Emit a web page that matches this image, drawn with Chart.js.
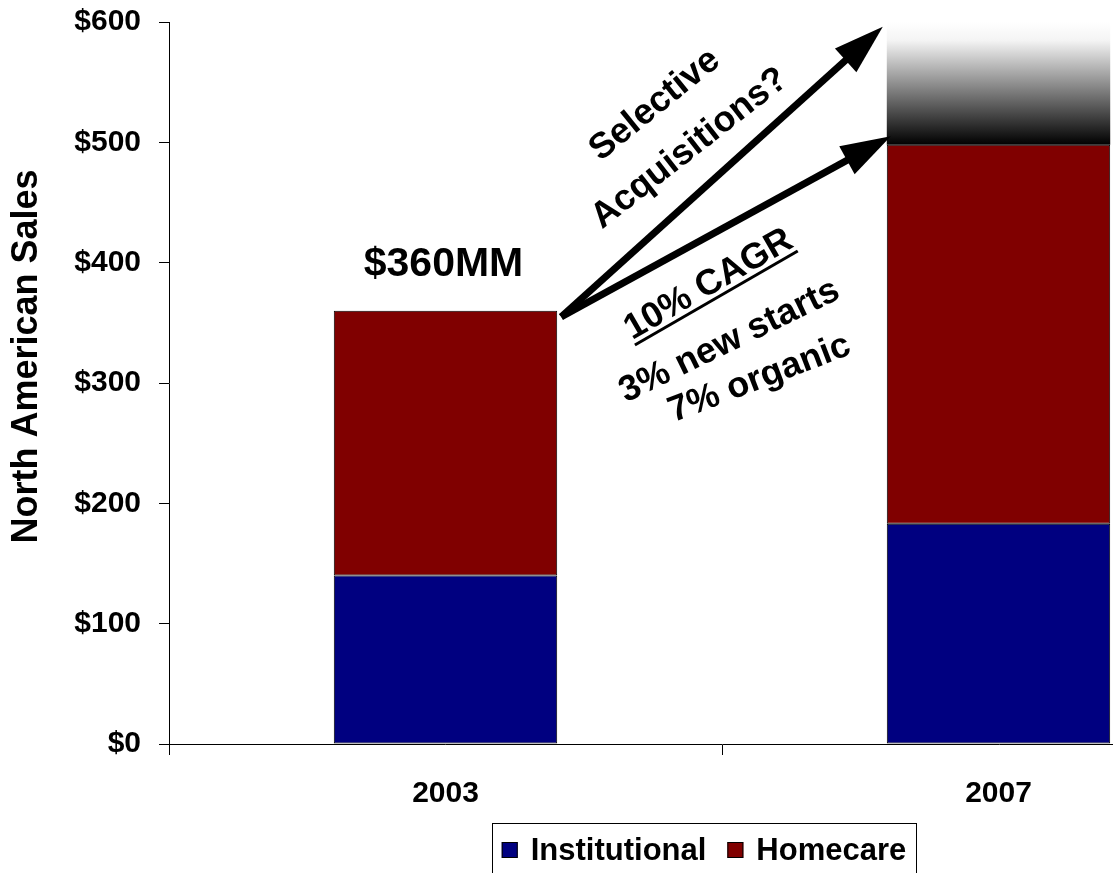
<!DOCTYPE html>
<html>
<head>
<meta charset="utf-8">
<script src="https://cdn.jsdelivr.net/npm/chart.js@4.4.0/dist/chart.umd.min.js"></script>
<style>
    html, body { margin: 0; padding: 0; background: #fff; overflow: hidden; }
    #wrap { position: relative; width: 1275px; height: 873px; }
</style>
</head>
<body>
<div id="wrap"><canvas id="salesChart"></canvas></div>
<script>
// North American sales, $MM
var years = ['2003', '2007'];
var institutional = [140, 183];
var homecare = [220, 315];
var upside = [null, 102];          // faded band on top of 2007, up to $600
var yTicks = [0, 100, 200, 300, 400, 500, 600];
var totalLabel = '$360MM';

var FONT = "'Liberation Sans', Arial, sans-serif";

// annotation text, placed by category index and $ value
var growthNotes = [
    { text: 'Selective', i: 0.375, v: 533, rot: -39 },
    { text: 'Acquisitions?', i: 0.438, v: 497, rot: -38 },
    { text: '10% CAGR', i: 0.473, v: 384, rot: -30, underline: true },
    { text: '3% new starts', i: 0.511, v: 337, rot: -26 },
    { text: '7% organic', i: 0.566, v: 306, rot: -21 }
];
// arrows: from top of 2003 bar to the 2007 bar
var arrowEnds = [
    { v: 505, dx: 4 },
    { v: 596, dx: -4 }
];
var arrowStart = 355;

function drawArrow(ctx, x1, y1, x2, y2) {
    var ang = Math.atan2(y2 - y1, x2 - x1);
    var headLen = 50, headHalf = 16;
    var bx = x2 - headLen * Math.cos(ang), by = y2 - headLen * Math.sin(ang);
    ctx.lineWidth = 7;
    ctx.beginPath();
    ctx.moveTo(x1, y1);
    ctx.lineTo(bx + 2 * Math.cos(ang), by + 2 * Math.sin(ang));
    ctx.stroke();
    ctx.beginPath();
    ctx.moveTo(x2, y2);
    ctx.lineTo(bx + headHalf * Math.sin(ang), by - headHalf * Math.cos(ang));
    ctx.lineTo(bx - headHalf * Math.sin(ang), by + headHalf * Math.cos(ang));
    ctx.closePath();
    ctx.fill();
}

var annotations = {
    id: 'annotations',
    afterDatasetsDraw: function (chart) {
        var ctx = chart.ctx;
        var xs = chart.scales.x, ys = chart.scales.y;
        var bars0 = chart.getDatasetMeta(0).data;
        ctx.save();
        ctx.fillStyle = '#000';
        ctx.strokeStyle = '#000';

        // y axis title
        ctx.save();
        ctx.translate(37, ys.getPixelForValue(322));
        ctx.rotate(-Math.PI / 2);
        ctx.font = 'bold 36px ' + FONT;
        ctx.textAlign = 'center';
        ctx.textBaseline = 'alphabetic';
        ctx.fillText('North American Sales', 0, 0);
        ctx.restore();

        // total above 2003
        ctx.font = 'bold 41px ' + FONT;
        ctx.textAlign = 'center';
        ctx.textBaseline = 'alphabetic';
        ctx.fillText(totalLabel, bars0[0].x - 2, ys.getPixelForValue(institutional[0] + homecare[0]) - 35);

        // arrows
        var sx = bars0[0].x + bars0[0].width / 2 + 4;
        var sy = ys.getPixelForValue(arrowStart);
        var left2007 = bars0[1].x - bars0[1].width / 2;
        arrowEnds.forEach(function (a) {
            drawArrow(ctx, sx, sy, left2007 + a.dx, ys.getPixelForValue(a.v));
        });

        // rotated notes
        ctx.font = 'bold 36px ' + FONT;
        growthNotes.forEach(function (n) {
            var px = xs.left + (n.i + 0.5) * (xs.width / years.length);
            var py = ys.getPixelForValue(n.v);
            ctx.save();
            ctx.translate(px, py);
            ctx.rotate(n.rot * Math.PI / 180);
            ctx.textAlign = 'center';
            ctx.fillText(n.text, 0, 13);
            if (n.underline) {
                var w = ctx.measureText(n.text).width;
                ctx.fillRect(-w / 2, 17, w, 3);
            }
            ctx.restore();
        });

        // legend box
        var items = chart.data.datasets.filter(function (d) { return !d.hideInLegend; });
        ctx.font = 'bold 31px ' + FONT;
        var sq = 16, gapText = 13, gapItem = 21;
        var total = 0;
        items.forEach(function (d, k) {
            total += sq + gapText + ctx.measureText(d.label).width + (k ? gapItem : 0);
        });
        var cx = 704, boxTop = 823;
        ctx.lineWidth = 1;
        ctx.strokeRect(492.5, boxTop + 0.5, 424, 70);
        var x = cx - total / 2;
        var midY = 851;
        ctx.textAlign = 'left';
        ctx.textBaseline = 'middle';
        items.forEach(function (d) {
            ctx.fillStyle = d.backgroundColor;
            ctx.fillRect(x, midY - 9, sq, sq);
            ctx.strokeRect(x + 0.5, midY - 8.5, sq - 1, sq - 1);
            ctx.fillStyle = '#000';
            ctx.fillText(d.label, x + sq + gapText, midY);
            x += sq + gapText + ctx.measureText(d.label).width + gapItem;
        });
        ctx.restore();
    }
};

var ctx = document.getElementById('salesChart');

var salesChart = new Chart(ctx, {
    type: 'bar',
    data: {
        labels: years,
        datasets: [{
            label: 'Institutional',
            data: institutional,
            backgroundColor: '#000080',
            borderColor: '#000',
            borderWidth: 1,
            borderSkipped: false
        }, {
            label: 'Homecare',
            data: homecare,
            backgroundColor: '#800000',
            borderColor: '#000',
            borderWidth: 1,
            borderSkipped: false
        }, {
            label: 'Upside',
            hideInLegend: true,
            data: upside,
            borderWidth: 0,
            backgroundColor: function (context) {
                var chart = context.chart;
                if (!chart.chartArea) return '#888';
                var ys = chart.scales.y;
                var base = institutional[1] + homecare[1];
                var g = chart.ctx.createLinearGradient(0, ys.getPixelForValue(base + upside[1]), 0, ys.getPixelForValue(base));
                g.addColorStop(0, '#ffffff');
                g.addColorStop(0.15, '#f4f4f4');
                g.addColorStop(1, '#000000');
                return g;
            }
        }]
    },
    options: {
        responsive: true,
        maintainAspectRatio: false,
        animation: false,
        layout: { padding: { top: 22 } },
        datasets: {
            bar: { barPercentage: 0.404, categoryPercentage: 1.0 }
        },
        plugins: {
            legend: { display: false },
            tooltip: { enabled: false }
        },
        scales: {
            x: {
                stacked: true,
                grid: { drawOnChartArea: false, tickLength: 11, color: '#000' },
                border: { color: '#000' },
                ticks: { color: '#000', padding: 21, font: { family: FONT, size: 30, weight: 'bold' } },
                afterFit: function (scale) {
                    scale.height = 129;
                    scale.paddingLeft = 0;
                    scale.paddingRight = 0;
                }
            },
            y: {
                stacked: true,
                min: 0,
                max: 600,
                grid: { drawOnChartArea: false, tickLength: 10, color: '#000' },
                border: { color: '#000' },
                ticks: {
                    color: '#000',
                    padding: 18,
                    font: { family: FONT, size: 30, weight: 'bold' },
                    callback: function (v) { return '$' + v; }
                },
                afterBuildTicks: function (scale) {
                    scale.ticks = yTicks.map(function (v) { return { value: v }; });
                },
                afterFit: function (scale) {
                    scale.width = 169;
                    scale.paddingTop = 0;
                    scale.paddingBottom = 0;
                }
            }
        }
    },
    plugins: [annotations]
});
</script>
</body>
</html>
